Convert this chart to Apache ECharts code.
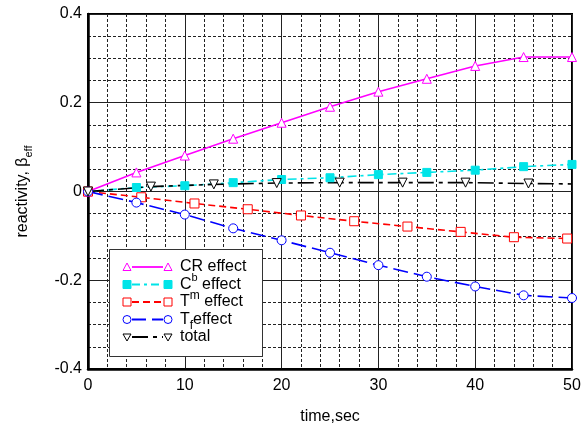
<!DOCTYPE html>
<html>
<head>
<meta charset="utf-8">
<script src="https://cdn.jsdelivr.net/npm/echarts@6.0.0/dist/echarts.min.js"></script>
<style>
  html, body { margin: 0; padding: 0; background: #fff; }
  #chart { width: 587px; height: 428px; }
</style>
</head>
<body>
<div id="chart"></div>
<script>
// Reactivity components over time (units of beta_eff)
const crTime   = [0, 5, 10, 15, 20, 25, 30, 35, 40, 45, 50];
const crValue  = [0, 0.043, 0.081, 0.119, 0.155, 0.191, 0.225, 0.254, 0.283, 0.303, 0.303];

const cbTime   = [0, 5, 10, 15, 20, 25, 30, 35, 40, 45, 50];
const cbValue  = [0, 0.009, 0.013, 0.020, 0.027, 0.031, 0.038, 0.043, 0.048, 0.056, 0.061];

const tmTime   = [0, 5.5, 11, 16.5, 22, 27.5, 33, 38.5, 44, 49.5, 50];
const tmValue  = [0, -0.013, -0.027, -0.040, -0.054, -0.067, -0.079, -0.091, -0.103, -0.106, -0.106];

const tfTime   = [0, 5, 10, 15, 20, 25, 30, 35, 40, 45, 50];
const tfValue  = [0, -0.025, -0.052, -0.083, -0.110, -0.138, -0.166, -0.192, -0.214, -0.234, -0.240];

const totTime  = [0, 6.5, 13, 19.5, 26, 32.5, 39, 45.5, 50];
const totValue = [0, 0.011, 0.016, 0.019, 0.020, 0.020, 0.020, 0.018, 0.017];

// points that continue a line to the axis end without a marker
const tmNoMarker  = [50];
const totNoMarker = [50];

const xTickLabels = ['0', '10', '20', '30', '40', '50'];
const yTickLabels = ['-0.4', '-0.2', '0', '0.2', '0.4'];

const FONT = '"Liberation Sans", Arial, sans-serif';

function pairs(ts, vs, noMarker) {
  return ts.map((t, i) => {
    const item = { value: [t, vs[i]] };
    if (noMarker && noMarker.indexOf(t) >= 0 && i === ts.length - 1) item.symbol = 'none';
    return item;
  });
}

const downTri = 'path://M0,0 L10,0 L5,9 Z';

const colors = {
  cr: '#ff00ff',
  cb: '#00e4e8',
  tm: '#ff0000',
  tf: '#0000ff',
  tot: '#000000'
};

const chart = echarts.init(document.getElementById('chart'), null, { renderer: 'canvas' });

// Legend drawn as a boxed key with marker–line–marker samples
const legendX = 109, legendY = 249, legendW = 153, legendH = 107;
const rowY = [267, 284.5, 302, 319.5, 337];
const keyRows = [
  { color: colors.cr,  dash: null,          symbol: 'tri',   fill: '#fff',      text: 'CR effect' },
  { color: colors.cb,  dash: [8, 4, 3, 4],  symbol: 'rect',  fill: colors.cb,   text: 'C{lo|b} effect' },
  { color: colors.tm,  dash: [7, 4],        symbol: 'rect',  fill: '#fff',      text: 'T{hi|m} effect' },
  { color: colors.tf,  dash: [14, 6],       symbol: 'circle',fill: '#fff',      text: 'T{sub|f}effect' },
  { color: colors.tot, dash: [16, 5, 4, 5], symbol: 'dtri',  fill: '#fff',      text: 'total' }
];

function markerShape(kind, cx, cy, color, fill) {
  const s = 4;
  if (kind === 'tri') {
    return { type: 'polygon', shape: { points: [[cx - s, cy + s - 0.5], [cx + s, cy + s - 0.5], [cx, cy - s]] },
      style: { fill: fill, stroke: color, lineWidth: 1 } };
  }
  if (kind === 'dtri') {
    return { type: 'polygon', shape: { points: [[cx - s, cy - s + 1], [cx + s, cy - s + 1], [cx, cy + s]] },
      style: { fill: fill, stroke: color, lineWidth: 1 } };
  }
  if (kind === 'rect') {
    return { type: 'rect', shape: { x: cx - s, y: cy - s, width: 2 * s, height: 2 * s },
      style: { fill: fill, stroke: color, lineWidth: 1 } };
  }
  return { type: 'circle', shape: { cx: cx, cy: cy, r: s },
    style: { fill: fill, stroke: color, lineWidth: 1 } };
}

const legendGraphics = [{
  type: 'rect',
  shape: { x: legendX + 0.5, y: legendY + 0.5, width: legendW, height: legendH },
  style: { fill: '#fff', stroke: '#333', lineWidth: 1 },
  z: 100
}];
keyRows.forEach((r, i) => {
  const y = rowY[i];
  legendGraphics.push({
    type: 'line',
    shape: { x1: 132, y1: y, x2: 163, y2: y },
    style: { stroke: r.color, lineWidth: 1.8, lineDash: r.dash || null },
    z: 101
  });
  legendGraphics.push(Object.assign(markerShape(r.symbol, 127, y, r.color, r.fill), { z: 102 }));
  legendGraphics.push(Object.assign(markerShape(r.symbol, 168, y, r.color, r.fill), { z: 102 }));
  legendGraphics.push({
    type: 'text',
    x: 180, y: y,
    style: {
      text: r.text,
      fill: '#000',
      font: '16px ' + FONT,
      lineHeight: 24,
      verticalAlign: 'middle',
      align: 'left',
      rich: {
        lo:  { fontSize: 11, fontFamily: FONT, lineHeight: 21, verticalAlign: 'top', fill: '#000' },
        hi:  { fontSize: 12, fontFamily: FONT, lineHeight: 8, verticalAlign: 'top', fill: '#000' },
        sub: { fontSize: 12, fontFamily: FONT, lineHeight: 14, verticalAlign: 'bottom', fill: '#000' }
      }
    },
    z: 102
  });
});

function lineSeries(name, data, color, dash, symbol, size, fill) {
  return {
    name: name,
    type: 'line',
    data: data,
    symbol: symbol,
    symbolSize: size,
    showAllSymbol: true,
    lineStyle: { color: color, width: 1.6, type: dash },
    itemStyle: { color: fill, borderColor: color, borderWidth: 1 },
    emphasis: { disabled: true },
    z: 5
  };
}

const option = {
  animation: false,
  backgroundColor: '#fff',
  textStyle: { fontFamily: FONT },
  grid: {
    left: 88, right: 15, top: 14, bottom: 59,
    containLabel: false,
    outerBoundsMode: 'none',
    show: true, borderColor: '#000', borderWidth: 2, backgroundColor: 'transparent'
  },
  xAxis: {
    type: 'value',
    min: 0, max: 50, interval: 10,
    name: 'time,sec',
    nameLocation: 'middle',
    nameGap: 40,
    nameTextStyle: { fontSize: 16, color: '#000', fontFamily: FONT },
    axisLine: { show: true, onZero: false, lineStyle: { color: '#000', width: 2.5 } },
    axisTick: { show: false },
    axisLabel: {
      fontSize: 16, color: '#000', margin: 9, fontFamily: FONT,
      formatter: v => xTickLabels[Math.round(v / 10)]
    },
    splitLine: { show: true, lineStyle: { color: '#222', width: 1, type: 'solid' } },
    minorTick: { show: false, splitNumber: 5 },
    minorSplitLine: { show: true, lineStyle: { color: '#222', width: 1, type: [3, 2] } }
  },
  yAxis: {
    type: 'value',
    min: -0.4, max: 0.4, interval: 0.2,
    name: 'reactivity, β{sub|eff}',
    nameLocation: 'middle',
    nameRotate: 90,
    nameGap: 54,
    nameTextStyle: {
      fontSize: 16, color: '#000', fontFamily: FONT, lineHeight: 22,
      rich: {
        sub: { fontSize: 11, color: '#000', fontFamily: FONT, lineHeight: 12, verticalAlign: 'bottom' }
      }
    },
    axisLine: { show: true, onZero: false, lineStyle: { color: '#000', width: 2.5 } },
    axisTick: { show: false },
    axisLabel: {
      fontSize: 16, color: '#000', margin: 6, fontFamily: FONT,
      formatter: v => yTickLabels[Math.round((v + 0.4) / 0.2)]
    },
    splitLine: { show: true, lineStyle: { color: '#222', width: 1, type: 'solid' } },
    minorTick: { show: false, splitNumber: 4 },
    minorSplitLine: { show: true, lineStyle: { color: '#222', width: 1, type: [3, 2] } }
  },
  series: [
    lineSeries('CR effect', pairs(crTime, crValue), colors.cr, 'solid', 'triangle', 9, '#fff'),
    lineSeries('Cb effect', pairs(cbTime, cbValue), colors.cb, [9, 4, 3, 4], 'rect', 8, colors.cb),
    lineSeries('Tm effect', pairs(tmTime, tmValue, tmNoMarker), colors.tm, [7, 4], 'rect', 9, '#fff'),
    lineSeries('Tf effect', pairs(tfTime, tfValue), colors.tf, [15, 6], 'circle', 9, '#fff'),
    lineSeries('total', pairs(totTime, totValue, totNoMarker), colors.tot, [16, 5, 4, 5], downTri, 9, '#fff')
  ],
  graphic: legendGraphics
};

chart.setOption(option);
</script>
</body>
</html>
